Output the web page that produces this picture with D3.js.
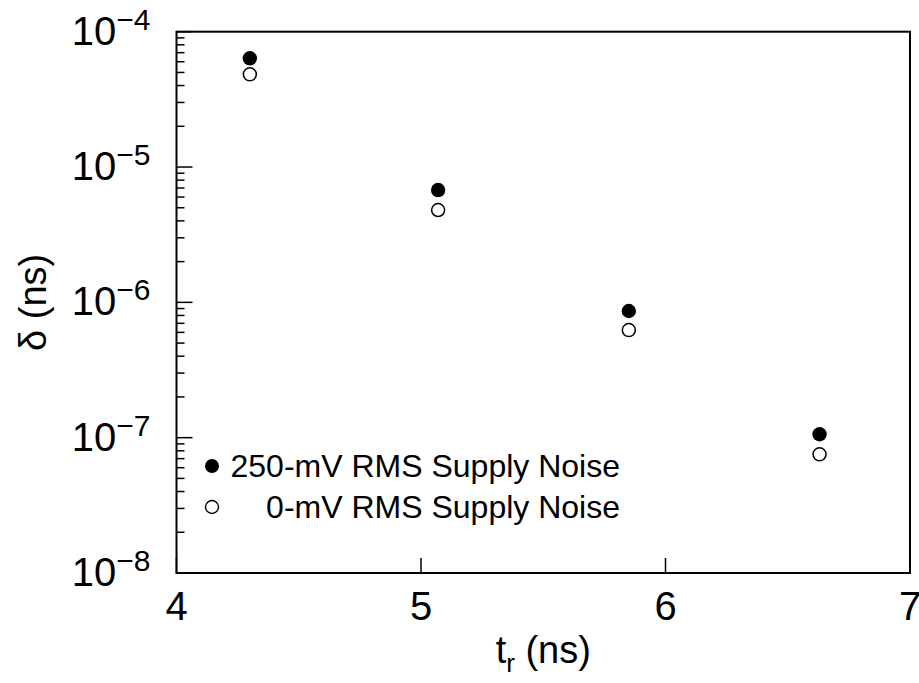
<!DOCTYPE html>
<html><head><meta charset="utf-8">
<script src="https://cdn.jsdelivr.net/npm/d3@7"></script>
<style>body{margin:0;background:#fff}svg{display:block}text{font-family:Arial,"Liberation Sans",sans-serif;fill:#000}</style>
</head><body><svg id="c" width="919" height="683"></svg>
<script>
const tr = [4.30, 5.07, 5.85, 6.63];
const noise250 = [6.36e-5, 6.76e-6, 8.63e-7, 1.06e-7];
const noise0 = [4.84e-5, 4.81e-6, 6.24e-7, 7.53e-8];
const xTicks = [4, 5, 6, 7];
const yExponents = [-4, -5, -6, -7, -8];
const legendLabels = ["250-mV RMS Supply Noise", "0-mV RMS Supply Noise"];

const svg = d3.select("#c");
const L = 176.5, R = 910, T = 31.7, B = 573;
const x = d3.scaleLinear().domain([4, 7]).range([L, R]);
const y = d3.scaleLog().domain([1e-8, 1e-4]).range([B, T]);

// y ticks (inside)
const minor = [];
for (let e = -8; e < -4; e++) for (let m = 2; m <= 9; m++) minor.push(m * Math.pow(10, e));
svg.append("g").selectAll("line").data(minor).join("line")
  .attr("x1", L).attr("x2", L + 8).attr("y1", d => y(d)).attr("y2", d => y(d))
  .attr("stroke", "#000").attr("stroke-width", 1.5);
svg.append("g").selectAll("line").data(yExponents).join("line")
  .attr("x1", L).attr("x2", L + 16).attr("y1", d => y(Math.pow(10, d))).attr("y2", d => y(Math.pow(10, d)))
  .attr("stroke", "#000").attr("stroke-width", 1.5);
// x ticks
svg.append("g").selectAll("line").data(xTicks).join("line")
  .attr("x1", d => x(d)).attr("x2", d => x(d)).attr("y1", B).attr("y2", B - 15)
  .attr("stroke", "#000").attr("stroke-width", 1.5);

// frame
svg.append("rect").attr("x", L).attr("y", T).attr("width", R - L).attr("height", B - T)
  .attr("fill", "none").attr("stroke", "#000").attr("stroke-width", 2);

// y tick labels
const yl = svg.append("g").selectAll("text").data(yExponents).join("text")
  .attr("x", L - 26).attr("y", d => y(Math.pow(10, d)) + 13)
  .attr("text-anchor", "end").attr("font-size", 40);
yl.append("tspan").text("10");
yl.append("tspan").attr("dy", -15).attr("font-size", 30).text(d => "\u2212" + Math.abs(d));

// x tick labels
svg.append("g").selectAll("text").data(xTicks).join("text")
  .attr("x", d => x(d)).attr("y", 620).attr("text-anchor", "middle").attr("font-size", 40)
  .text(d => d);

// axis titles
const xt = svg.append("text").attr("x", x(5.5)).attr("y", 663).attr("text-anchor", "middle").attr("font-size", 38);
xt.append("tspan").text("t");
xt.append("tspan").attr("font-size", 26).attr("dy", 9).text("r");
xt.append("tspan").attr("dy", -9).text(" (ns)");
svg.append("text").attr("transform", `translate(46,${(T + B) / 2}) rotate(-90)`)
  .attr("text-anchor", "middle").attr("font-size", 38).text("\u03b4 (ns)");

// points
svg.append("g").selectAll("circle").data(tr).join("circle")
  .attr("cx", d => x(d)).attr("cy", (d, i) => y(noise0[i])).attr("r", 6.5)
  .attr("fill", "#fff").attr("stroke", "#000").attr("stroke-width", 1.5);
svg.append("g").selectAll("circle").data(tr).join("circle")
  .attr("cx", d => x(d)).attr("cy", (d, i) => y(noise250[i])).attr("r", 7.2)
  .attr("fill", "#000");

// legend
const lg = svg.append("g");
lg.append("circle").attr("cx", 212).attr("cy", 466).attr("r", 7).attr("fill", "#000");
lg.append("circle").attr("cx", 212).attr("cy", 507).attr("r", 6.5).attr("fill", "#fff").attr("stroke", "#000").attr("stroke-width", 1.4);
lg.selectAll("text").data(legendLabels).join("text")
  .attr("x", 620).attr("y", (d, i) => 477 + i * 41).attr("text-anchor", "end").attr("font-size", 32)
  .text(d => d);
</script></body></html>
